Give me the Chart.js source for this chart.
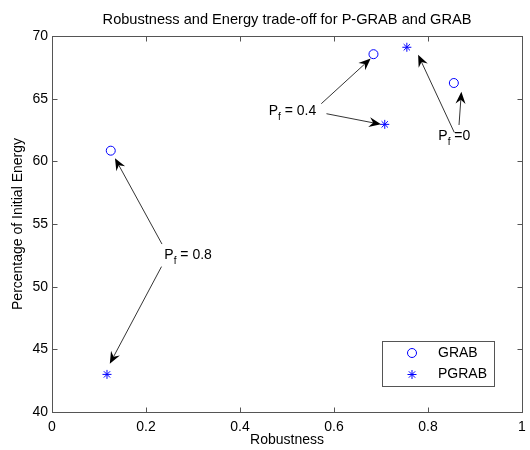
<!DOCTYPE html>
<html>
<head>
<meta charset="utf-8">
<script src="https://cdn.jsdelivr.net/npm/chart.js@4/dist/chart.umd.min.js"></script>
<style>
  html, body { margin: 0; padding: 0; background: #fff; }
  #wrap { width: 530px; height: 450px; }
</style>
</head>
<body>
<div id="wrap"><canvas id="tradeoffChart" width="530" height="450"></canvas></div>
<script>
// data
const grabX = [0.125, 0.684, 0.855];
const grabY = [60.85, 68.55, 66.25];
const pgrabX = [0.117, 0.708, 0.755];
const pgrabY = [43.0, 62.95, 69.1];

const xTicks = [0, 0.2, 0.4, 0.6, 0.8, 1];
const xTickLabels = ['0', '0.2', '0.4', '0.6', '0.8', '1'];
const yTicks = [40, 45, 50, 55, 60, 65, 70];
const yTickLabels = ['40', '45', '50', '55', '60', '65', '70'];

// text arrows: [fromX, fromY, toX, toY] in data units
const arrows = [
  [0.234, 53.4, 0.134, 60.25],
  [0.233, 51.6, 0.123, 43.85],
  [0.573, 64.6, 0.678, 68.2],
  [0.584, 63.8, 0.700, 62.95],
  [0.856, 62.3, 0.779, 68.5],
  [0.866, 62.9, 0.871, 65.55]
];
// labels: [x, y, rest of text]
const pfLabels = [
  [0.239, 52.5, ' = 0.8'],
  [0.461, 64.0, ' = 0.4'],
  [0.822, 62.0, ' =0']
];

const FONT = '"Liberation Sans", Arial, sans-serif';
const AXIS_COLOR = '#555';

function arrowHead(c, tx, ty, ang) {
  const L = 12, W = 5, back = 4;
  const dx = Math.cos(ang), dy = Math.sin(ang);
  const px = -dy, py = dx;
  c.beginPath();
  c.moveTo(tx, ty);
  c.lineTo(tx - L * dx + W * px, ty - L * dy + W * py);
  c.lineTo(tx - (L - back) * dx, ty - (L - back) * dy);
  c.lineTo(tx - L * dx - W * px, ty - L * dy - W * py);
  c.closePath();
  c.fill();
}

const decor = {
  id: 'decor',
  afterDraw(chart) {
    const c = chart.ctx;
    const a = chart.chartArea;
    const xs = chart.scales.x, ys = chart.scales.y;
    c.save();

    // box and inward ticks
    c.strokeStyle = AXIS_COLOR;
    c.lineWidth = 1;
    const l = Math.round(a.left) + 0.5, r = Math.round(a.right) + 0.5;
    const t = Math.round(a.top) + 0.5, b = Math.round(a.bottom) + 0.5;
    c.strokeRect(l, t, r - l, b - t);
    c.beginPath();
    xTicks.forEach(v => {
      const x = Math.round(xs.getPixelForValue(v)) + 0.5;
      c.moveTo(x, b); c.lineTo(x, b - 5);
      c.moveTo(x, t); c.lineTo(x, t + 5);
    });
    yTicks.forEach(v => {
      const y = Math.round(ys.getPixelForValue(v)) + 0.5;
      c.moveTo(l, y); c.lineTo(l + 5, y);
      c.moveTo(r, y); c.lineTo(r - 5, y);
    });
    c.stroke();

    // titles
    c.fillStyle = '#000';
    c.textAlign = 'center';
    c.textBaseline = 'middle';
    c.font = '14.6px ' + FONT;
    c.fillText('Robustness and Energy trade-off for P-GRAB and GRAB', (a.left + a.right) / 2, 20);
    c.font = '14px ' + FONT;
    c.fillText('Robustness', (a.left + a.right) / 2, 440);
    c.save();
    c.translate(18, (a.top + a.bottom) / 2);
    c.rotate(-Math.PI / 2);
    c.fillText('Percentage of Initial Energy', 0, 0);
    c.restore();

    // arrows
    c.strokeStyle = '#000';
    c.fillStyle = '#000';
    c.lineWidth = 0.8;
    arrows.forEach(([x0, y0, x1, y1]) => {
      const sx = xs.getPixelForValue(x0), sy = ys.getPixelForValue(y0);
      const ex = xs.getPixelForValue(x1), ey = ys.getPixelForValue(y1);
      const ang = Math.atan2(ey - sy, ex - sx);
      c.beginPath();
      c.moveTo(sx, sy);
      c.lineTo(ex - 8 * Math.cos(ang), ey - 8 * Math.sin(ang));
      c.stroke();
      arrowHead(c, ex, ey, ang);
    });

    // P_f labels
    c.textAlign = 'left';
    c.textBaseline = 'middle';
    pfLabels.forEach(([x, y, rest]) => {
      let px = xs.getPixelForValue(x);
      const py = ys.getPixelForValue(y);
      c.font = '14px ' + FONT;
      c.fillText('P', px, py);
      px += c.measureText('P').width;
      c.font = '10px ' + FONT;
      c.fillText('f', px, py + 6);
      px += c.measureText('f').width;
      c.font = '14px ' + FONT;
      c.fillText(rest, px, py);
    });

    // legend
    const lx = 382.5, ly = 341.5, lw = 112, lh = 45;
    c.fillStyle = '#fff';
    c.fillRect(lx, ly, lw, lh);
    c.strokeStyle = AXIS_COLOR;
    c.lineWidth = 1;
    c.strokeRect(lx, ly, lw, lh);
    chart.data.datasets.forEach((ds, i) => {
      const my = 353 + i * 21.5;
      c.strokeStyle = ds.borderColor;
      c.fillStyle = ds.backgroundColor;
      c.lineWidth = ds.borderWidth;
      Chart.helpers.drawPoint(c, {
        pointStyle: ds.pointStyle, radius: ds.pointRadius, borderWidth: ds.borderWidth
      }, 412, my);
      c.fillStyle = '#000';
      c.font = '14px ' + FONT;
      c.textAlign = 'left';
      c.textBaseline = 'middle';
      c.fillText(ds.label, 438, my);
    });
    c.restore();
  }
};

const ctx = document.getElementById('tradeoffChart').getContext('2d');
new Chart(ctx, {
  type: 'scatter',
  data: {
    datasets: [
      {
        label: 'GRAB',
        data: grabX.map((x, i) => ({ x: x, y: grabY[i] })),
        pointStyle: 'circle',
        pointRadius: 4.5,
        borderColor: '#0000ff',
        backgroundColor: 'rgba(0,0,0,0)',
        borderWidth: 1
      },
      {
        label: 'PGRAB',
        data: pgrabX.map((x, i) => ({ x: x, y: pgrabY[i] })),
        pointStyle: 'star',
        pointRadius: 4.5,
        borderColor: '#0000ff',
        backgroundColor: 'rgba(0,0,0,0)',
        borderWidth: 1
      }
    ]
  },
  options: {
    responsive: false,
    animation: false,
    devicePixelRatio: 1,
    layout: { padding: { top: 36, right: 8, left: 0, bottom: 0 } },
    plugins: {
      legend: { display: false },
      title: { display: false },
      tooltip: { enabled: false }
    },
    scales: {
      x: {
        type: 'linear',
        min: 0, max: 1,
        afterBuildTicks: s => { s.ticks = xTicks.map(v => ({ value: v })); },
        afterFit: s => { s.height = 38; s.paddingRight = 0; s.paddingLeft = 0; },
        ticks: {
          callback: (v, i) => xTickLabels[i],
          color: '#000', font: { family: FONT, size: 14 }, padding: 7,
          maxRotation: 0
        },
        grid: { display: false, drawTicks: false, tickLength: 0 },
        border: { display: false }
      },
      y: {
        type: 'linear',
        min: 40, max: 70,
        afterBuildTicks: s => { s.ticks = yTicks.map(v => ({ value: v })); },
        afterFit: s => { s.width = 52; s.paddingTop = 0; s.paddingBottom = 0; },
        ticks: {
          callback: (v, i) => yTickLabels[i],
          color: '#000', font: { family: FONT, size: 14 }, padding: 4
        },
        grid: { display: false, drawTicks: false, tickLength: 0 },
        border: { display: false }
      }
    }
  },
  plugins: [decor]
});
</script>
</body>
</html>
